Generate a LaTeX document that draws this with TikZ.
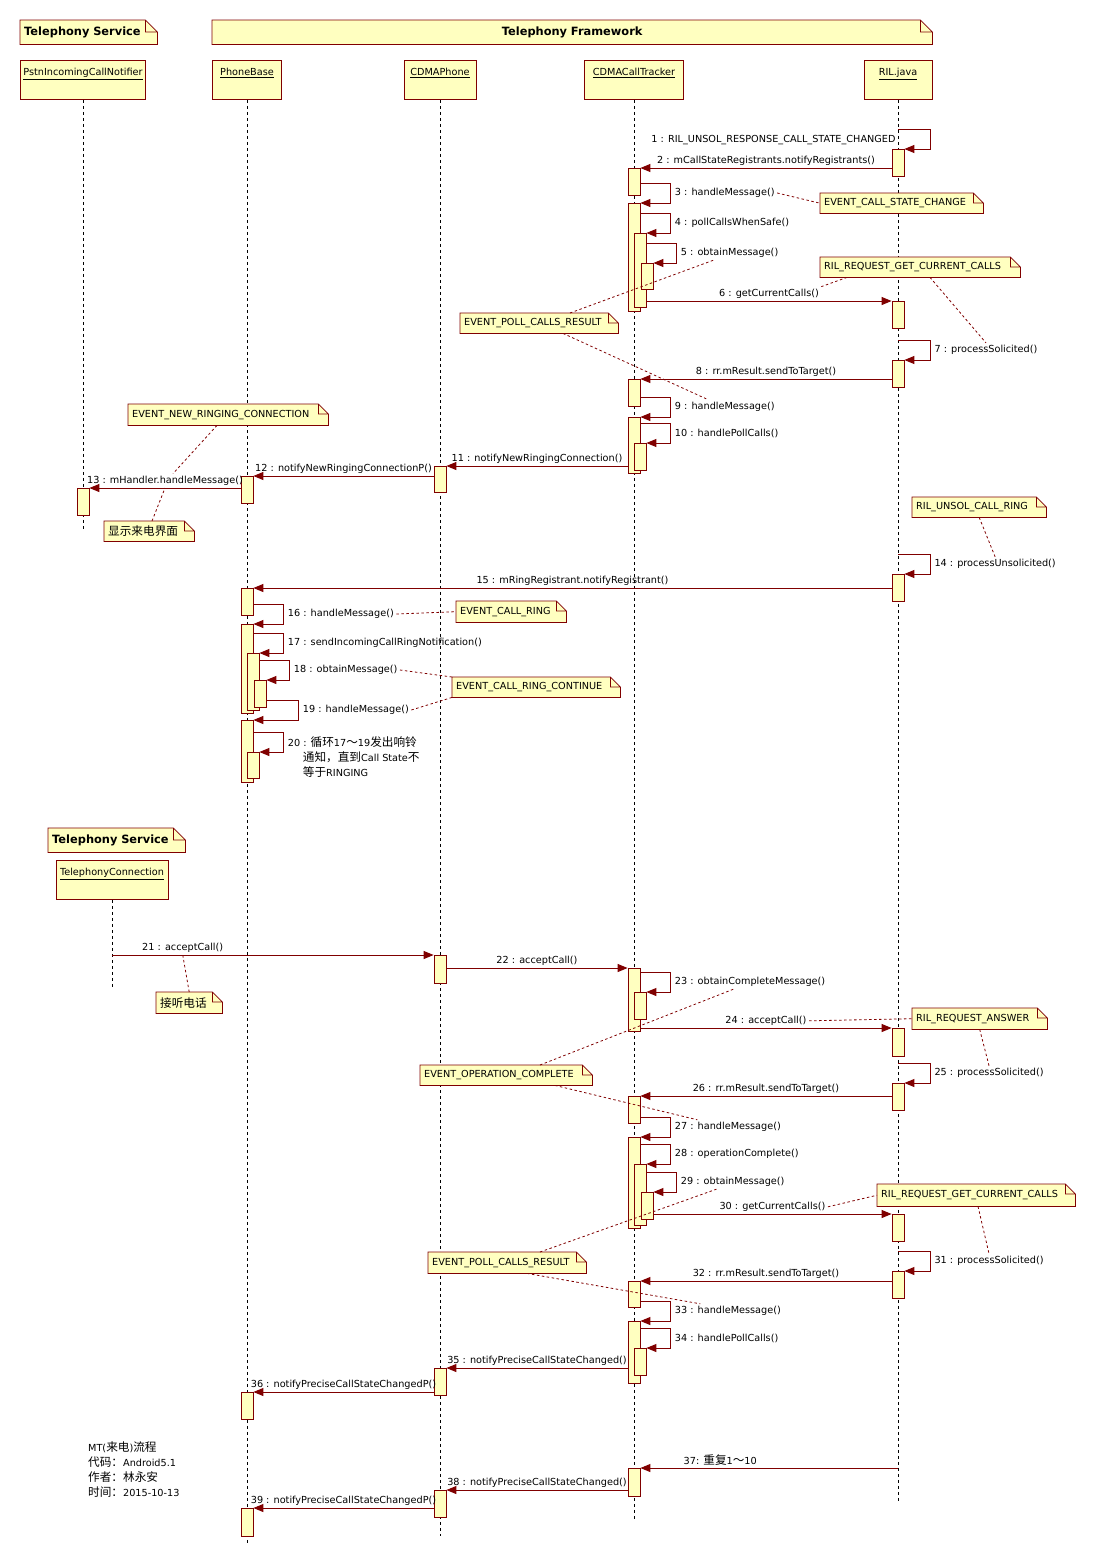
\documentclass[tikz,border=0pt]{standalone}
\usepackage{fontspec}
\setmainfont{DejaVu Sans}
\newfontfamily\cjk[Scale=1.2]{Noto Sans CJK SC}
\usetikzlibrary{arrows.meta,positioning}
\definecolor{umlred}{HTML}{800000}
\definecolor{umlfill}{HTML}{FFFFC0}
\newcommand{\lblFont}{\fontsize{9.7pt}{15pt}\selectfont}
\newcommand{\hdrFont}{\bfseries\fontsize{11.4pt}{14pt}\selectfont}
\tikzset{
  lifeline/.style={line width=0.8pt, dash pattern=on 3pt off 3pt},
  head/.style={draw=umlred, fill=umlfill, line width=0.8pt, anchor=north,
    minimum height=39pt, inner sep=0pt, text height=15pt, text depth=24pt, font=\lblFont},
  act/.style={draw=umlred, fill=umlfill, line width=0.8pt, anchor=north,
    minimum width=12pt, minimum height=27pt, inner sep=0pt},
  msg/.style={draw=umlred, line width=1pt, -{Triangle[length=10pt,width=8pt]}},
  lbl/.style={font=\lblFont, inner sep=2pt},
  umlnote/.style={fill=umlfill, anchor=north west, inner xsep=4pt, inner ysep=0pt,
    minimum height=21pt, align=left, font=\lblFont},
  header/.style={umlnote, minimum height=24pt, font=\hdrFont},
  noteline/.style={draw=umlred, line width=0.8pt},
  notelink/.style={draw=umlred, line width=0.8pt, dash pattern=on 2.5pt off 2.5pt}
}
% call between two lifelines, label above
\newcommand{\callmsg}[5][0.5]{\draw[msg] (#2 |- #3) -- (#3) node[lbl, pos=#1, above] (#4) {#5};}
% self call, loop to the right
\newcommand{\selfmsg}[5][30pt]{\draw[msg] (#2 |- #3.north) ++(0,-20) -- ++(#1,0) |- (#3.north east)
  node[lbl, pos=0.25, right=2pt] (#4) {#5};}
% folded corner of a note
\newcommand{\dogear}[2][10pt]{%
  \fill[white] ([xshift=-#1]#2.north east) -- (#2.north east) -- ([yshift=-#1]#2.north east) -- cycle;
  \draw[noteline] (#2.north west) -- ([xshift=-#1]#2.north east) -- ([yshift=-#1]#2.north east)
    -- (#2.south east) -- (#2.south west) -- cycle ([xshift=-#1]#2.north east) |- ([yshift=-#1]#2.north east);}

\begin{document}
\begin{tikzpicture}[x=1pt, y=-1pt]
  \path[use as bounding box, fill=white] (0,0) rectangle (1097,1564);

  % packages
  \node[header, text width=129pt] (tsvc) at (20,20) {Telephony Service};
  \dogear[12pt]{tsvc}
  \node[header, text width=712pt, align=center] (tfw) at (212,20) {Telephony Framework};
  \dogear[12pt]{tfw}
  \node[header, text width=129pt] (tsvc2) at (48,828) {Telephony Service};
  \dogear[12pt]{tsvc2}

  % objects
  \node[head, minimum width=125pt] (pstn) at (83,60) {\underline{PstnIncomingCallNotifier}};
  \node[head, minimum width=69pt] (pb) at (247,60) {\underline{PhoneBase}};
  \node[head, minimum width=72pt] (cp) at (440,60) {\underline{CDMAPhone}};
  \node[head, minimum width=99pt] (ct) at (634,60) {\underline{CDMACallTracker}};
  \node[head, minimum width=68pt] (ril) at (898,60) {\underline{RIL.java}};
  \node[head, minimum width=112pt] (tc) at (112,860) {\underline{TelephonyConnection}};

  \draw[lifeline] (pstn.south) -- ++(0,429);
  \draw[lifeline] (pb.south) -- ++(0,1443);
  \draw[lifeline] (cp.south) -- ++(0,1436);
  \draw[lifeline] (ct.south) -- ++(0,1420);
  \draw[lifeline] (ril.south) -- ++(0,1401);
  \draw[lifeline] (tc.south) -- ++(0,88);

  % activations
  \node[act] (ril1) at (898,149) {};
  \node[act] (ril2) at (898,301) {};
  \node[act] (ril3) at (898,360) {};
  \node[act] (ril4) at (898,574) {};
  \node[act, minimum height=28pt] (ril5) at (898,1028) {};
  \node[act] (ril6) at (898,1083) {};
  \node[act] (ril7) at (898,1214) {};
  \node[act] (ril8) at (898,1271) {};

  \node[act] (ct1) at (634,168) {};
  \node[act, minimum height=108pt] (ct2) at (634,203) {};
  \node[act, minimum height=74pt] (ct3) at (640,233) {};
  \node[act, minimum height=26pt] (ct4) at (647,263) {};
  \node[act] (ct5) at (634,379) {};
  \node[act, minimum height=56pt] (ct6) at (634,417) {};
  \node[act] (ct7) at (640,443) {};
  \node[act, minimum height=63pt] (ct8) at (634,968) {};
  \node[act] (ct9) at (640,992) {};
  \node[act] (ct10) at (634,1096) {};
  \node[act, minimum height=91pt] (ct11) at (634,1137) {};
  \node[act, minimum height=61pt] (ct12) at (640,1164) {};
  \node[act] (ct13) at (647,1192) {};
  \node[act, minimum height=26pt] (ct14) at (634,1281) {};
  \node[act, minimum height=62pt] (ct15) at (634,1321) {};
  \node[act] (ct16) at (640,1348) {};
  \node[act, minimum height=28pt] (ct17) at (634,1468) {};

  \node[act, minimum height=26pt] (cp1) at (440,466) {};
  \node[act, minimum height=28pt] (cp2) at (440,955) {};
  \node[act] (cp3) at (440,1368) {};
  \node[act] (cp4) at (440,1490) {};

  \node[act] (pb1) at (247,476) {};
  \node[act] (pb2) at (247,588) {};
  \node[act, minimum height=89pt] (pb3) at (247,624) {};
  \node[act, minimum height=57pt] (pb4) at (253,653) {};
  \node[act] (pb5) at (260,680) {};
  \node[act, minimum height=62pt] (pb6) at (247,720) {};
  \node[act, minimum height=26pt] (pb7) at (253,752) {};
  \node[act] (pb8) at (247,1392) {};
  \node[act, minimum height=28pt] (pb9) at (247,1508) {};

  \node[act] (pstn1) at (83,488) {};

  % messages
  \draw[msg] (ril.south |- ril1.north) ++(0,-20) node[lbl, below left, yshift=-4pt] (m1)
    {1 : RIL\_UNSOL\_RESPONSE\_CALL\_STATE\_CHANGED} -- ++(32,0) |- (ril1.north east);
  \callmsg{ril1.west}{ct1.north east}{m2}{2 : mCallStateRegistrants.notifyRegistrants()}
  \selfmsg{ct1.east}{ct2}{m3}{3 : handleMessage()}
  \selfmsg{ct2.east}{ct3}{m4}{4 : pollCallsWhenSafe()}
  \selfmsg{ct3.east}{ct4}{m5}{5 : obtainMessage()}
  \callmsg{ct3.east}{ril2.north west}{m6}{6 : getCurrentCalls()}
  \selfmsg[32pt]{ril.south}{ril3}{m7}{7 : processSolicited()}
  \callmsg{ril3.west}{ct5.north east}{m8}{8 : rr.mResult.sendToTarget()}
  \selfmsg{ct5.east}{ct6}{m9}{9 : handleMessage()}
  \selfmsg{ct6.east}{ct7}{m10}{10 : handlePollCalls()}
  \callmsg{ct6.west}{cp1.north east}{m11}{11 : notifyNewRingingConnection()}
  \callmsg{cp1.west}{pb1.north east}{m12}{12 : notifyNewRingingConnectionP()}
  \callmsg{pb1.west}{pstn1.north east}{m13}{13 : mHandler.handleMessage()}
  \selfmsg[32pt]{ril.south}{ril4}{m14}{14 : processUnsolicited()}
  \callmsg{ril4.west}{pb2.north east}{m15}{15 : mRingRegistrant.notifyRegistrant()}
  \selfmsg{pb2.east}{pb3}{m16}{16 : handleMessage()}
  \selfmsg{pb3.east}{pb4}{m17}{17 : sendIncomingCallRingNotification()}
  \selfmsg{pb4.east}{pb5}{m18}{18 : obtainMessage()}
  \selfmsg[32pt]{pb5.east}{pb6}{m19}{19 : handleMessage()}
  \draw[msg] (pb6.east |- pb7.north) ++(0,-20) -- ++(30,0) |- (pb7.north east)
    node[lbl, pos=0.25, anchor=west, align=left, xshift=2pt, yshift=-15pt] (m20)
    {20 : {\cjk 循环}17{\cjk ～}19{\cjk 发出响铃}\\\hspace*{15pt}{\cjk 通知，直到}Call State{\cjk 不}\\\hspace*{15pt}{\cjk 等于}RINGING};

  \callmsg[0.22]{tc.south}{cp2.north west}{m21}{21 : acceptCall()}
  \callmsg{cp2.east}{ct8.north west}{m22}{22 : acceptCall()}
  \selfmsg{ct8.east}{ct9}{m23}{23 : obtainCompleteMessage()}
  \callmsg{ct8.east}{ril5.north west}{m24}{24 : acceptCall()}
  \selfmsg[32pt]{ril.south}{ril6}{m25}{25 : processSolicited()}
  \callmsg{ril6.west}{ct10.north east}{m26}{26 : rr.mResult.sendToTarget()}
  \selfmsg{ct10.east}{ct11}{m27}{27 : handleMessage()}
  \selfmsg{ct11.east}{ct12}{m28}{28 : operationComplete()}
  \selfmsg{ct12.east}{ct13}{m29}{29 : obtainMessage()}
  \callmsg{ct13.east}{ril7.north west}{m30}{30 : getCurrentCalls()}
  \selfmsg[32pt]{ril.south}{ril8}{m31}{31 : processSolicited()}
  \callmsg{ril8.west}{ct14.north east}{m32}{32 : rr.mResult.sendToTarget()}
  \selfmsg{ct14.east}{ct15}{m33}{33 : handleMessage()}
  \selfmsg{ct15.east}{ct16}{m34}{34 : handlePollCalls()}
  \callmsg{ct15.west}{cp3.north east}{m35}{35 : notifyPreciseCallStateChanged()}
  \callmsg{cp3.west}{pb8.north east}{m36}{36 : notifyPreciseCallStateChangedP()}
  \callmsg[0.69]{ril.south}{ct17.north east}{m37}{37: {\cjk 重复}1{\cjk ～}10}
  \callmsg{ct17.west}{cp4.north east}{m38}{38 : notifyPreciseCallStateChanged()}
  \callmsg{cp4.west}{pb9.north east}{m39}{39 : notifyPreciseCallStateChangedP()}

  % notes
  \node[umlnote, text width=155pt, minimum height=20pt] (nCSC) at (820,193) {EVENT\_CALL\_STATE\_CHANGE};
  \dogear{nCSC}
  \node[umlnote, text width=192pt, minimum height=20pt] (nGCC1) at (820,257) {RIL\_REQUEST\_GET\_CURRENT\_CALLS};
  \dogear{nGCC1}
  \node[umlnote, text width=150pt, minimum height=20pt] (nPCR1) at (460,313) {EVENT\_POLL\_CALLS\_RESULT};
  \dogear{nPCR1}
  \node[umlnote, text width=192pt] (nNRC) at (128,404) {EVENT\_NEW\_RINGING\_CONNECTION};
  \dogear{nNRC}
  \node[umlnote, text width=82pt, minimum height=20pt] (nUI) at (104,521) {\cjk 显示来电界面};
  \dogear{nUI}
  \node[umlnote, text width=126pt, minimum height=20pt] (nUCR) at (912,497) {RIL\_UNSOL\_CALL\_RING};
  \dogear{nUCR}
  \node[umlnote, text width=102pt] (nCR) at (456,601) {EVENT\_CALL\_RING};
  \dogear{nCR}
  \node[umlnote, text width=160pt, minimum height=20pt] (nCRC) at (452,677) {EVENT\_CALL\_RING\_CONTINUE};
  \dogear{nCRC}
  \node[umlnote, text width=58pt] (nAns) at (156,992) {\cjk 接听电话};
  \dogear{nAns}
  \node[umlnote, text width=127pt] (nRA) at (912,1008) {RIL\_REQUEST\_ANSWER};
  \dogear{nRA}
  \node[umlnote, text width=164pt, minimum height=20pt] (nOC) at (420,1065) {EVENT\_OPERATION\_COMPLETE};
  \dogear{nOC}
  \node[umlnote, text width=190pt, minimum height=22pt] (nGCC2) at (877,1184) {RIL\_REQUEST\_GET\_CURRENT\_CALLS};
  \dogear{nGCC2}
  \node[umlnote, text width=150pt] (nPCR2) at (428,1252) {EVENT\_POLL\_CALLS\_RESULT};
  \dogear{nPCR2}

  % note links
  \draw[notelink] (m3.east) -- (nCSC.west);
  \draw[notelink] ([xshift=27pt]nGCC1.south west) -- (m6.north east);
  \draw[notelink] ([xshift=110pt]nGCC1.south west) -- (m7.north);
  \draw[notelink] ([xshift=110pt]nPCR1.north west) -- ([xshift=35pt]m5.south west);
  \draw[notelink] ([xshift=103pt]nPCR1.south west) -- ([xshift=36pt]m9.north west);
  \draw[notelink] ([xshift=89pt]nNRC.south west) -- ([xshift=8pt]m13.north);
  \draw[notelink] ([xshift=48pt]nUI.north west) -- (m13.south);
  \draw[notelink] (nUCR.south) -- (m14.north);
  \draw[notelink] (m16.east) -- (nCR.west);
  \draw[notelink] (m18.east) -- (nCRC.north west);
  \draw[notelink] (m19.east) -- (nCRC.south west);
  \draw[notelink] (nAns.north) -- (m21.south);
  \draw[notelink] (m24.east) -- (nRA.west);
  \draw[notelink] (nRA.south) -- (m25.north);
  \draw[notelink] ([xshift=120pt]nOC.north west) -- ([xshift=61pt]m23.south west);
  \draw[notelink] ([xshift=135pt]nOC.south west) -- ([xshift=25pt]m27.north west);
  \draw[notelink] (m30.east) -- (nGCC2.west);
  \draw[notelink] ([xshift=101pt]nGCC2.south west) -- (m31.north);
  \draw[notelink] ([xshift=112pt]nPCR2.north west) -- ([xshift=38pt]m29.south west);
  \draw[notelink] ([xshift=99pt]nPCR2.south west) -- ([xshift=28pt]m33.north west);

  % info
  \node[lbl, anchor=north west, align=left] (info) at (86,1440)
    {MT({\cjk 来电}){\cjk 流程}\\{\cjk 代码：}Android5.1\\{\cjk 作者：林永安}\\{\cjk 时间：}2015-10-13};
\end{tikzpicture}
\end{document}
